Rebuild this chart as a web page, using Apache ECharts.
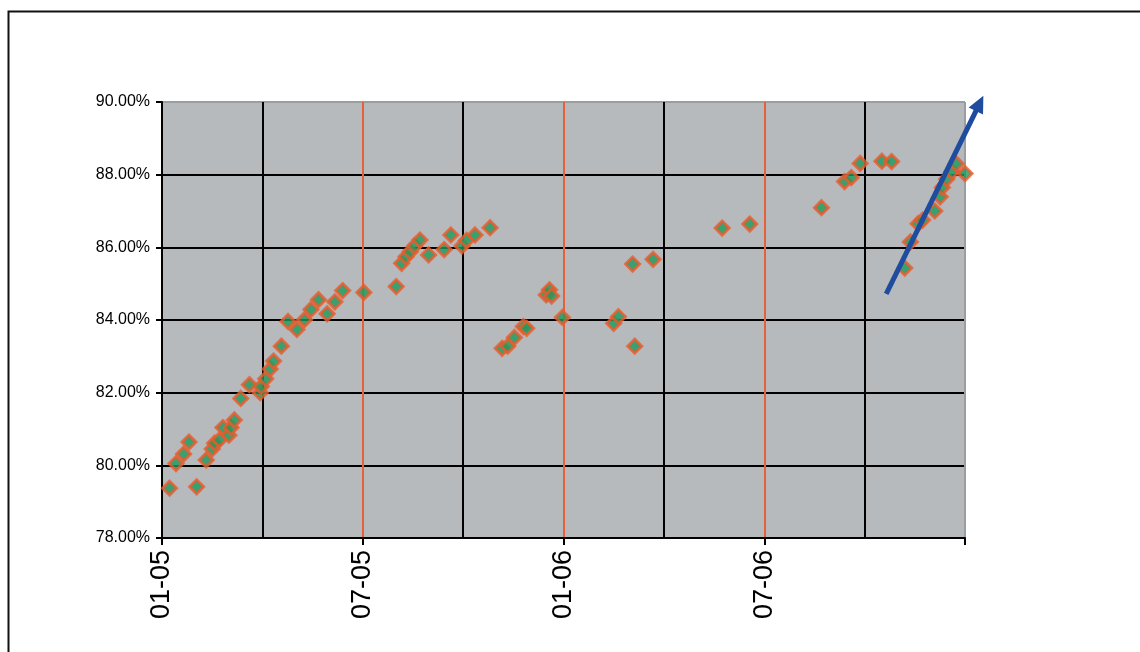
<!DOCTYPE html>
<html>
<head>
<meta charset="utf-8">
<script src="https://cdn.jsdelivr.net/npm/echarts@6/dist/echarts.min.js"></script>
<style>
  html, body { margin: 0; padding: 0; background: #ffffff; }
  #chart { width: 1140px; height: 652px; }
</style>
</head>
<body>
<div id="chart"></div>
<script>
// ---- data ----
const dates = [
  '2005-01-08','2005-01-14','2005-01-21','2005-01-26','2005-02-02','2005-02-10','2005-02-15','2005-02-17',
  '2005-02-21','2005-02-24','2005-03-01','2005-03-03','2005-03-06','2005-03-12','2005-03-20','2005-03-30',
  '2005-03-31','2005-04-04','2005-04-08','2005-04-11','2005-04-18','2005-04-24','2005-05-02','2005-05-09',
  '2005-05-15','2005-05-22','2005-05-30','2005-06-06','2005-06-13','2005-07-02','2005-08-01','2005-08-06',
  '2005-08-10','2005-08-14','2005-08-18','2005-08-23','2005-08-31','2005-09-14','2005-09-20','2005-09-30',
  '2005-10-04','2005-10-12','2005-10-26','2005-11-06','2005-11-11','2005-11-17','2005-11-25','2005-11-28',
  '2005-12-16','2005-12-19','2005-12-21','2005-12-31','2006-02-15','2006-02-19','2006-03-03','2006-03-05',
  '2006-03-22','2006-05-24','2006-06-18','2006-08-23','2006-09-13','2006-09-19','2006-09-27','2006-10-17',
  '2006-10-26','2006-11-07','2006-11-12','2006-11-19','2006-11-23','2006-12-04','2006-12-09','2006-12-11',
  '2006-12-15','2006-12-20','2006-12-24','2007-01-01'
];
const values = [
  79.37, 80.05, 80.31, 80.64, 79.41, 80.15, 80.45, 80.61,
  80.70, 81.04, 80.83, 81.04, 81.25, 81.84, 82.22, 82.00,
  82.17, 82.38, 82.65, 82.87, 83.28, 83.96, 83.74, 84.01,
  84.29, 84.56, 84.17, 84.50, 84.81, 84.76, 84.92, 85.56,
  85.74, 85.88, 86.04, 86.20, 85.79, 85.94, 86.34, 86.04,
  86.19, 86.34, 86.54, 83.22, 83.28, 83.52, 83.82, 83.77,
  84.69, 84.83, 84.66, 84.07, 83.91, 84.09, 85.54, 83.28,
  85.67, 86.53, 86.64, 87.09, 87.81, 87.92, 88.31, 88.37,
  88.36, 85.43, 86.15, 86.65, 86.75, 87.00, 87.39, 87.65,
  87.88, 88.08, 88.30, 88.03
];
// trend arrow: [date, value] start and end
const arrowStart = ['2006-10-21', 84.72];
const arrowEnd = ['2007-01-18', 90.17];
// axis ranges
const yTicks = [78, 80, 82, 84, 86, 88, 90];
const startYear = 2005;
const monthSpan = 24;

// convert a date string to fractional months since Jan 2005
function toMonths(s) {
  const [y, m, d] = s.split('-').map(Number);
  const dim = new Date(y, m, 0).getDate();
  return (y - startYear) * 12 + (m - 1) + (d - 1) / dim;
}

const points = dates.map((d, i) => [toMonths(d), values[i]]);
const arrowData = [[toMonths(arrowStart[0]), arrowStart[1], toMonths(arrowEnd[0]), arrowEnd[1]]];

const RED = '#e8603a';
const chart = echarts.init(document.getElementById('chart'));
chart.setOption({
  animation: false,
  graphic: [{
    type: 'rect', left: 6, top: 9, silent: true, z: -10,
    shape: { width: 1300, height: 800 },
    style: { fill: 'none', stroke: '#111', lineWidth: 2 }
  }],
  grid: {
    left: 162, right: 175, top: 102, bottom: 114,
    show: true, backgroundColor: '#b6babd', borderWidth: 0
  },
  xAxis: {
    type: 'value', min: 0, max: monthSpan, interval: 6,
    axisLine: { show: true, onZero: false, lineStyle: { color: '#000', width: 2 } },
    axisTick: { show: true, length: 7, lineStyle: { color: '#000', width: 2 } },
    minorTick: { show: false, splitNumber: 2 },
    minorSplitLine: { show: true, lineStyle: { color: '#000', width: 2 } },
    splitLine: { show: true, lineStyle: { color: ['#000', RED, RED, RED, '#9a9ea1'], width: 2 } },
    axisLabel: {
      rotate: 90, margin: 12, fontSize: 27, color: '#000',
      fontFamily: 'Liberation Sans, Arial, sans-serif',
      formatter: function (v) {
        if (v >= monthSpan || v % 6 !== 0) return '';
        const mm = String(v % 12 + 1).padStart(2, '0');
        const yy = String((startYear + Math.floor(v / 12)) % 100).padStart(2, '0');
        return mm + '-' + yy;
      }
    }
  },
  yAxis: {
    type: 'value', min: yTicks[0], max: yTicks[yTicks.length - 1], interval: 2,
    axisLine: { show: true, lineStyle: { color: '#000', width: 2 } },
    axisTick: { show: true, length: 6, lineStyle: { color: '#000', width: 2 } },
    splitLine: { show: true, lineStyle: { color: ['#000', '#000', '#000', '#000', '#000', '#000', '#9a9ea1'], width: 2 } },
    axisLabel: {
      margin: 12, fontSize: 16, color: '#000',
      fontFamily: 'Liberation Sans, Arial, sans-serif',
      formatter: function (v) { return v.toFixed(2) + '%'; }
    }
  },
  series: [{
    type: 'scatter',
    data: points,
    clip: false,
    symbol: 'diamond',
    symbolSize: 14,
    itemStyle: { color: '#1b9a5c', borderColor: '#ec5a2c', borderWidth: 3 },
    z: 3
  }, {
    type: 'custom',
    data: arrowData,
    clip: false,
    encode: { x: [0, 2], y: [1, 3] },
    z: 5,
    renderItem: function (params, api) {
      const p0 = api.coord([api.value(0), api.value(1)]);
      const p1 = api.coord([api.value(2), api.value(3)]);
      const dx = p1[0] - p0[0], dy = p1[1] - p0[1];
      const len = Math.sqrt(dx * dx + dy * dy);
      const ux = dx / len, uy = dy / len;
      const headL = 17, headW = 8;
      const bx = p1[0] - ux * headL, by = p1[1] - uy * headL;
      const color = '#1f4c9e';
      return {
        type: 'group',
        children: [{
          type: 'line',
          shape: { x1: p0[0], y1: p0[1], x2: bx + ux * 2, y2: by + uy * 2 },
          style: { stroke: color, lineWidth: 5 }
        }, {
          type: 'polygon',
          shape: { points: [[p1[0], p1[1]], [bx - uy * headW, by + ux * headW], [bx + uy * headW, by - ux * headW]] },
          style: { fill: color }
        }]
      };
    }
  }]
});
</script>
</body>
</html>
